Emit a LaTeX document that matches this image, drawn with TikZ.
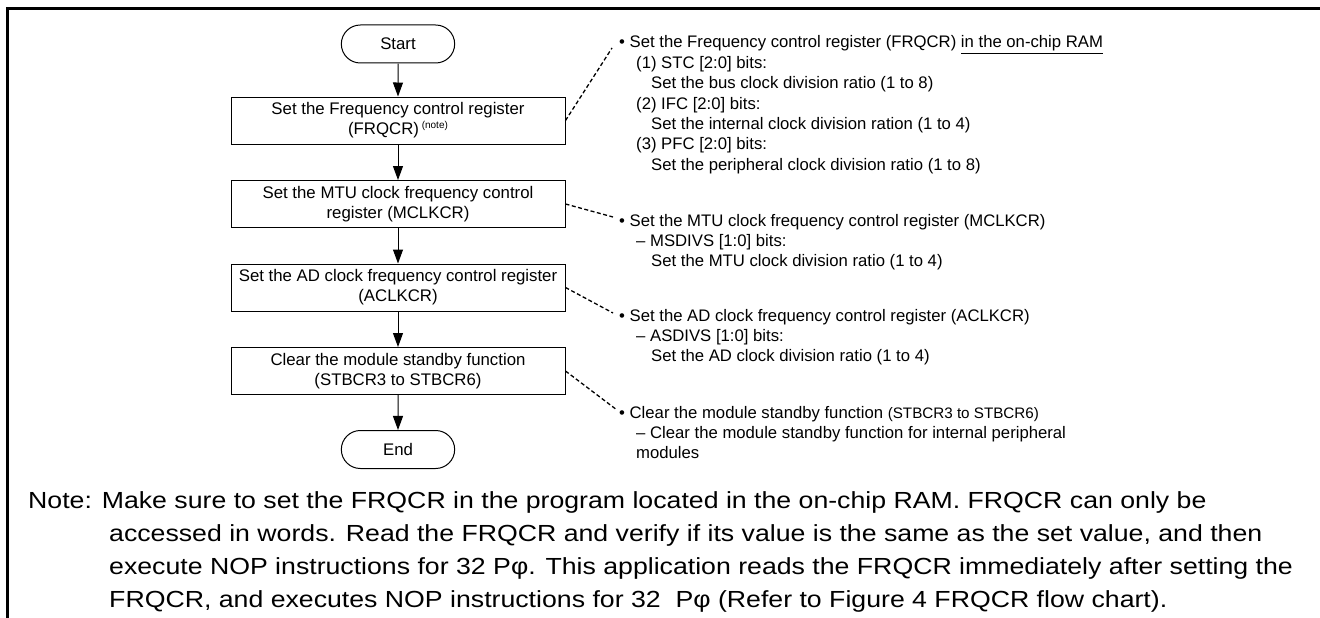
\documentclass[tikz,border=0pt]{standalone}
\usepackage{fontspec}
\setmainfont{Liberation Sans}
\newfontfamily\notefont[FakeStretch=1.145]{Liberation Sans}
\usetikzlibrary{arrows.meta,shapes.misc}
\begin{document}
\begin{tikzpicture}[x=1pt,y=-1pt,
 proc/.style={draw,line width=1pt,minimum width=334pt,minimum height=47pt,align=center,font=\fontsize{16.8}{20}\selectfont,inner sep=0pt},
 term/.style={draw,line width=1pt,rounded rectangle,minimum width=120pt,minimum height=38pt,font=\fontsize{16.8}{20}\selectfont},
 flow/.style={line width=1pt,-{Triangle[width=10pt,length=14pt]}},
 lead/.style={line width=1.3pt,dash pattern=on 4pt off 2.5pt},
 notetxt/.style={anchor=base west,inner sep=0pt,font=\fontsize{16.7}{20.4}\selectfont}]
\useasboundingbox (0,0) rectangle (1320,618);
\draw[line width=2.2pt] (7.5,618) -- (7.5,8.5) -- (1320,8.5);

\node[term] (start) at (398,44) {Start};
\node[proc] (frq) at (398,120.5) {Set the Frequency control register\\(FRQCR)\,\raisebox{6pt}{\fontsize{10}{10}\selectfont(note)}};
\node[proc] (mtu) at (398,204) {Set the MTU clock frequency control\\register (MCLKCR)};
\node[proc] (ad) at (398,287.5) {Set the AD clock frequency control register\\(ACLKCR)};
\node[proc] (clr) at (398,371) {Clear the module standby function\\(STBCR3 to STBCR6)};
\node[term] (end) at (398,449.5) {End};

\draw[flow] (start) -- (frq);
\draw[flow] (frq) -- (mtu);
\draw[flow] (mtu) -- (ad);
\draw[flow] (ad) -- (clr);
\draw[flow] (clr) -- (end);

\node[notetxt] (n1) at (619,48) {\parbox[t]{660pt}{\raggedright • Set the Frequency control register (FRQCR) \underline{in the on-chip RAM}\\
\hspace*{17pt}(1) STC [2:0] bits:\\
\hspace*{32pt}Set the bus clock division ratio (1 to 8)\\
\hspace*{17pt}(2) IFC [2:0] bits:\\
\hspace*{32pt}Set the internal clock division ration (1 to 4)\\
\hspace*{17pt}(3) PFC [2:0] bits:\\
\hspace*{32pt}Set the peripheral clock division ratio (1 to 8)}};
\node[notetxt] (n2) at (619,226) {\parbox[t]{660pt}{\raggedright • Set the MTU clock frequency control register (MCLKCR)\\
\hspace*{17pt}– MSDIVS [1:0] bits:\\
\hspace*{32pt}Set the MTU clock division ratio (1 to 4)}};
\node[notetxt] (n3) at (619,321) {\parbox[t]{660pt}{\raggedright • Set the AD clock frequency control register (ACLKCR)\\
\hspace*{17pt}– ASDIVS [1:0] bits:\\
\hspace*{32pt}Set the AD clock division ratio (1 to 4)}};
\node[notetxt] (n4) at (619,418) {\parbox[t]{660pt}{\raggedright • Clear the module standby function {\fontsize{15.2}{20.4}\selectfont(STBCR3 to STBCR6)}\\
\hspace*{17pt}– Clear the module standby function for internal peripheral\\
\hspace*{17pt}modules}};

\coordinate (c1) at (612,48);
\coordinate (c2) at (613,217);
\coordinate (c3) at (613,313);
\coordinate (c4) at (617,410);
\draw[lead] (frq.east) -- (c1);
\draw[lead] (mtu.east) -- (c2);
\draw[lead] (ad.east) -- (c3);
\draw[lead] (clr.east) -- (c4);

\node[anchor=base west,inner sep=0pt,font=\notefont\fontsize{23.3}{33.3}\selectfont] (note) at (28,508) {\parbox[t]{1300pt}{\raggedright Note: Make sure to set the FRQCR in the program located in the on-chip RAM. FRQCR can only be\\
\hspace*{81pt}accessed in words. Read the FRQCR and verify if its value is the same as the set value, and then\\
\hspace*{81pt}execute NOP instructions for 32 Pφ. This application reads the FRQCR immediately after setting the\\
\hspace*{81pt}FRQCR, and executes NOP instructions for 32 \ Pφ (Refer to Figure 4 FRQCR flow chart).}};
\end{tikzpicture}
\end{document}
